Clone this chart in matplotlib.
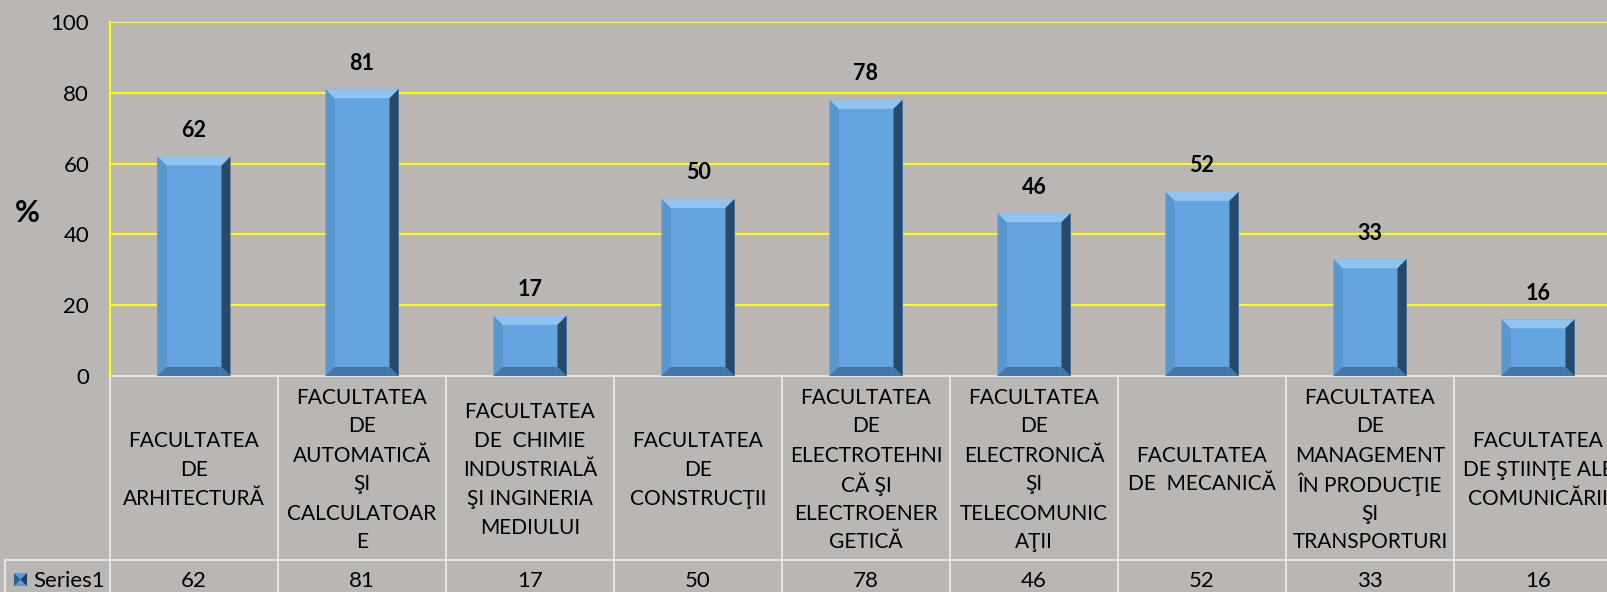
import matplotlib
matplotlib.use("Agg")
import matplotlib.pyplot as plt
from matplotlib.patches import Polygon, Rectangle

faculties = [
    "FACULTATEA\nDE\nARHITECTURĂ",
    "FACULTATEA\nDE\nAUTOMATICĂ\nŞI\nCALCULATOAR\nE",
    "FACULTATEA\nDE  CHIMIE\nINDUSTRIALĂ\nŞI INGINERIA\nMEDIULUI",
    "FACULTATEA\nDE\nCONSTRUCŢII",
    "FACULTATEA\nDE\nELECTROTEHNI\nCĂ ŞI\nELECTROENER\nGETICĂ",
    "FACULTATEA\nDE\nELECTRONICĂ\nŞI\nTELECOMUNIC\nAŢII",
    "FACULTATEA\nDE  MECANICĂ",
    "FACULTATEA\nDE\nMANAGEMENT\nÎN PRODUCŢIE\nŞI\nTRANSPORTURI",
    "FACULTATEA\nDE ŞTIINŢE ALE\nCOMUNICĂRII",
]
values = [62, 81, 17, 50, 78, 46, 52, 33, 16]
series_name = "Series1"
yticks = [0, 20, 40, 60, 80, 100]

plt.rcParams['font.family'] = ['Lato', 'DejaVu Sans']

W, H = 1608, 592
bg = '#bab6b3'
grid_c = '#ffff00'
line_c = '#e4e4e4'

fig = plt.figure(figsize=(W / 100, H / 100), dpi=100)
fig.patch.set_facecolor(bg)

# layout in pixels
left_px, col_px = 110, 168
zero_px, top_px = 376, 22
hdr_bot = 560
line_h = 29
n = len(values)

# table / background layer in pixel coords
tab = fig.add_axes([0, 0, 1, 1], zorder=0)
tab.set_xlim(0, W)
tab.set_ylim(H, 0)
tab.axis('off')

ax = fig.add_axes([left_px / W, 1 - zero_px / H, n * col_px / W, (zero_px - top_px) / H], zorder=1)
ax.set_facecolor('none')
ax.set_xlim(-0.5, n - 0.5)
ax.set_ylim(0, 100)
ax.set_yticks(yticks)
ax.set_xticks([])
ax.tick_params(axis='y', length=0, pad=15, labelsize=16, labelcolor='black')
for s in ['top', 'right', 'bottom']:
    ax.spines[s].set_visible(False)
ax.spines['left'].set_color(grid_c)
ax.spines['left'].set_linewidth(1.5)
for t in yticks[1:]:
    ax.axhline(t, color=grid_c, lw=1.5, zorder=0)

# bars with bevel
bw = 73 / col_px
bars = ax.bar(range(n), values, width=bw, color='#63a3df', edgecolor='none', zorder=2)
bx = 9 / col_px
by = 9 / ((zero_px - top_px) / 100)
for b in bars:
    x0, x1 = b.get_x(), b.get_x() + b.get_width()
    y0, y1 = 0, b.get_height()
    ix0, ix1, iy0, iy1 = x0 + bx, x1 - bx, y0 + by, y1 - by
    ax.add_patch(Polygon([(x0, y1), (x1, y1), (ix1, iy1), (ix0, iy1)], color='#8fc4f0', zorder=3, lw=0))
    ax.add_patch(Polygon([(x0, y0), (x0, y1), (ix0, iy1), (ix0, iy0)], color='#5a95cc', zorder=3, lw=0))
    ax.add_patch(Polygon([(x1, y0), (x1, y1), (ix1, iy1), (ix1, iy0)], color='#27496c', zorder=3, lw=0))
    ax.add_patch(Polygon([(x0, y0), (x1, y0), (ix1, iy0), (ix0, iy0)], color='#4576a8', zorder=3, lw=0))
    ax.annotate(f"{int(b.get_height())}", (b.get_x() + b.get_width() / 2, y1),
                xytext=(0, 26), textcoords='offset pixels', ha='center', va='center',
                fontsize=15.5, fontweight='bold', zorder=4, annotation_clip=False)

fig.text(27 / W, 1 - 213 / H, '%', ha='center', va='center', fontsize=22, fontweight='bold')

# data table
tab.plot([left_px, W], [zero_px, zero_px], color=line_c, lw=1.5)
tab.plot([5, W], [hdr_bot, hdr_bot], color=line_c, lw=1.5)
tab.plot([5, 5], [hdr_bot, H], color=line_c, lw=1.5)
for i in range(n + 1):
    xe = left_px + i * col_px
    tab.plot([xe, xe], [zero_px, H], color=line_c, lw=1.5)
yc = (zero_px + hdr_bot) / 2
for i, (lab, v) in enumerate(zip(faculties, values)):
    xc = left_px + (i + 0.5) * col_px
    rows = lab.split('\n')
    m = len(rows)
    for k, r in enumerate(rows):
        tab.text(xc, yc + (k - (m - 1) / 2) * line_h, r, ha='center', va='center_baseline',
                 fontsize=15)
    tab.text(xc, 579, str(v), ha='center', va='center_baseline', fontsize=16)

tab.add_patch(Rectangle((14, 573), 13, 13, color='#5b9bd5', lw=0))
tab.add_patch(Polygon([(14, 573), (20.5, 579.5), (14, 586)], color='#2f5f8f', lw=0))
tab.add_patch(Polygon([(27, 573), (20.5, 579.5), (27, 586)], color='#1f3f60', lw=0))
tab.text(33, 579, series_name, ha='left', va='center_baseline', fontsize=16)

fig.savefig('out.png', dpi=100, facecolor=bg)
